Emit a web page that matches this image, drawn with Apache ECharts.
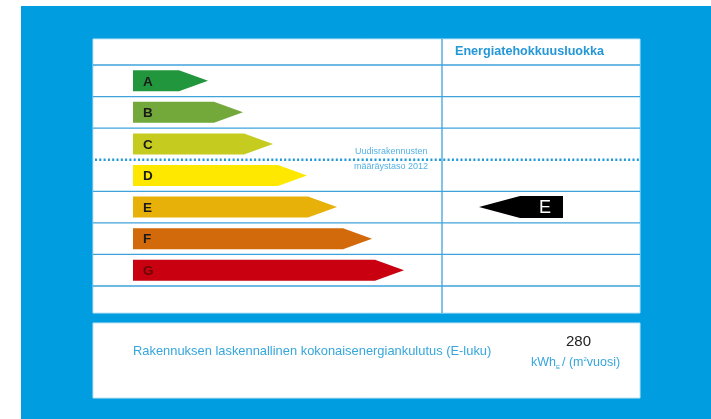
<!DOCTYPE html>
<html>
<head>
<meta charset="utf-8">
<title>Energiatehokkuusluokka</title>
<script src="https://cdn.jsdelivr.net/npm/echarts@6/dist/echarts.min.js"></script>
<style>
  html, body { margin: 0; padding: 0; background: #fff; }
  #chart { width: 711px; height: 419px; }
</style>
</head>
<body>
<div id="chart"></div>
<script>
// luokat ja nuolten pituudet (px-yksiköissä, x-akseli 0..547)
var classes = ['A', 'B', 'C', 'D', 'E', 'F', 'G'];
var arrowLengths = [75, 110, 140, 174, 204, 239, 271];
var ratedClass = 'E';
var eLuku = 280;
var limitAfterClass = 'C'; // määräystaso 2012 raja C/D välissä

var palette = ['#22963c', '#72a93a', '#c6cc1f', '#ffe800', '#e8b10a', '#d2690a', '#c8000f'];
var letterColors = ['#1a1a1a', '#1a1a1a', '#1a1a1a', '#1a1a1a', '#1a1a1a', '#1a1a1a', '#6a0606'];

var FONT = '"Liberation Sans", Arial, sans-serif';
var BLUE = '#009ee0';
var LINE = '#3ea3dc';
var ARROW_X = 40;   // nuolten alku
var TIP = 29;       // kärjen pituus
var XMAX = 547;

var chart = echarts.init(document.getElementById('chart'));

function renderClassArrow(params, api) {
  var i = api.value(0);
  var len = api.value(1);
  var p0 = api.coord([ARROW_X, i]);
  var p1 = api.coord([ARROW_X + len, i]);
  var h = Math.round(api.size([0, 1])[1] * 0.67);
  var y0 = p0[1] - h / 2, y1 = p0[1] + h / 2;
  return {
    type: 'group',
    children: [{
      type: 'polygon',
      shape: { points: [[p0[0], y0], [p1[0] - TIP, y0], [p1[0], p0[1]], [p1[0] - TIP, y1], [p0[0], y1]] },
      style: { fill: palette[i] }
    }, {
      type: 'text',
      x: p0[0] + 10, y: p0[1] + 1,
      style: { text: classes[i], fill: letterColors[i], font: 'bold 13.5px ' + FONT, verticalAlign: 'middle' }
    }]
  };
}

function renderRows(params, api) {
  var i = api.value(0);
  var c = api.coord([0, i]);
  var band = api.size([0, 1])[1];
  var xr = api.coord([XMAX, i])[0];
  var yb = c[1] + band / 2;
  var children = [];
  if (i === 0) {
    children.push({ type: 'line', shape: { x1: c[0], y1: c[1] - band / 2, x2: xr, y2: c[1] - band / 2 },
      style: { stroke: LINE, lineWidth: 1.3 } });
  }
  if (classes[i] === limitAfterClass) {
    children.push({ type: 'line', z2: 5, shape: { x1: c[0] + 2, y1: yb, x2: xr, y2: yb },
      style: { stroke: '#1f98d8', lineWidth: 2.4, lineDash: [2, 2.3] } });
  } else {
    children.push({ type: 'line', shape: { x1: c[0], y1: yb, x2: xr, y2: yb },
      style: { stroke: LINE, lineWidth: 1.3 } });
  }
  return { type: 'group', children: children };
}

function renderRating(params, api) {
  var i = api.value(0);
  var tip = api.coord([386, i]);
  var body = api.coord([427, i]);
  var end = api.coord([470, i]);
  var h = 22;
  var y0 = tip[1] - h / 2, y1 = tip[1] + h / 2;
  return {
    type: 'group',
    children: [{
      type: 'polygon',
      shape: { points: [[tip[0], tip[1]], [body[0], y0], [end[0], y0], [end[0], y1], [body[0], y1]] },
      style: { fill: '#000' }
    }, {
      type: 'text',
      x: end[0] - 18, y: tip[1] + 1,
      style: { text: ratedClass, fill: '#fff', font: '18px ' + FONT, align: 'center', verticalAlign: 'middle' }
    }]
  };
}

var option = {
  backgroundColor: '#fff',
  animation: false,
  grid: { left: 93, right: 71, top: 65, bottom: 133 },
  xAxis: { type: 'value', min: 0, max: XMAX, show: false },
  yAxis: { type: 'category', data: classes, inverse: true, show: false },
  graphic: [
    { type: 'rect', z: -10, shape: { x: 21, y: 6, width: 690, height: 413 }, style: { fill: BLUE } },
    { type: 'rect', z: -9, shape: { x: 93, y: 39, width: 547, height: 274 }, style: { fill: '#fff', stroke: '#bfe4f6', lineWidth: 1 } },
    { type: 'line', z: -8, shape: { x1: 442, y1: 39, x2: 442, y2: 313 }, style: { stroke: LINE, lineWidth: 1.3 } },
    { type: 'text', left: 455, top: 45,
      style: { text: 'Energiatehokkuusluokka', fill: '#2597d6', font: 'bold 12.6px ' + FONT } },
    { type: 'text', left: 355, top: 147,
      style: { text: 'Uudisrakennusten', fill: '#55b2e4', font: '9px ' + FONT } },
    { type: 'text', left: 354, top: 162,
      style: { text: 'määräystaso 2012', fill: '#55b2e4', font: '9px ' + FONT } },
    { type: 'rect', z: -9, shape: { x: 93, y: 323, width: 547, height: 75 }, style: { fill: '#fff', stroke: '#bfe4f6', lineWidth: 1 } },
    { type: 'text', left: 133, top: 345,
      style: { text: 'Rakennuksen laskennallinen kokonaisenergiankulutus (E-luku)', fill: '#36a6dc', font: '12.9px ' + FONT } },
    { type: 'text', left: 566, top: 334,
      style: { text: String(eLuku), fill: '#222', font: '15px ' + FONT } },
    { type: 'text', left: 531, top: 356,
      style: {
        text: '{u|kWh}{s|E}{u|/ (m}{p|2}{u|vuosi)}',
        rich: {
          u: { fill: '#36a6dc', font: '12.5px ' + FONT },
          s: { fill: '#36a6dc', font: '6px ' + FONT, padding: [10, 2, 0, 0] },
          p: { fill: '#36a6dc', font: '6px ' + FONT, padding: [0, 0, 6, 0] }
        }
      } }
  ],
  series: [{
    type: 'custom',
    name: 'rows',
    renderItem: renderRows,
    data: classes.map(function (c, i) { return [i]; }),
    z: 1,
    silent: true
  }, {
    type: 'custom',
    name: 'luokat',
    renderItem: renderClassArrow,
    data: classes.map(function (c, i) { return [i, arrowLengths[i]]; }),
    z: 3,
    silent: true
  }, {
    type: 'custom',
    name: 'luokitus',
    renderItem: renderRating,
    data: [[classes.indexOf(ratedClass)]],
    z: 3,
    silent: true
  }]
};

chart.setOption(option);
</script>
</body>
</html>
